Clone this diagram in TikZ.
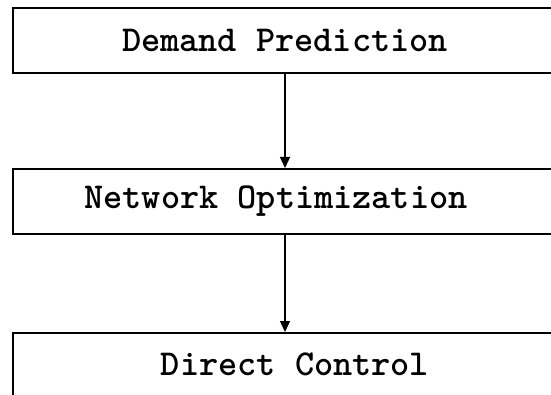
\documentclass[tikz,border=0pt]{standalone}
\usepackage{fontspec}
\usetikzlibrary{arrows.meta}
\begin{document}
\begin{tikzpicture}[x=1pt,y=-1pt,
  stagebox/.style={draw=black,line width=2pt,inner sep=0pt},
  stagetext/.style={font=\ttfamily\bfseries\fontsize{36.5}{36.5}\selectfont,inner sep=0pt,anchor=center},
  flow/.style={line width=1.4pt,-{Triangle[length=11pt,width=10pt]}}]
  \useasboundingbox (0,0) rectangle (551,395);
  % stage boxes (right edge runs past the page)
  \node[stagebox,minimum width=570pt,minimum height=65pt,anchor=north west] (dp) at (12,7) {};
  \node[stagebox,minimum width=570pt,minimum height=65pt,anchor=north west] (no) at (12,168) {};
  \node[stagebox,minimum width=570pt,minimum height=65pt,anchor=north west] (dc) at (12,332) {};
  % stage labels
  \node[stagetext] (tdp) at (285,40) {Demand Prediction};
  \node[stagetext] (tno) at (276,201) {Network Optimization};
  \node[stagetext] (tdc) at (295,364) {Direct Control};
  % connectors
  \coordinate (a1) at (285,72);
  \draw[flow] (a1) -- (a1 |- no.north);
  \coordinate (a2) at (285,233);
  \draw[flow] (a2) -- (a2 |- dc.north);
\end{tikzpicture}
\end{document}
